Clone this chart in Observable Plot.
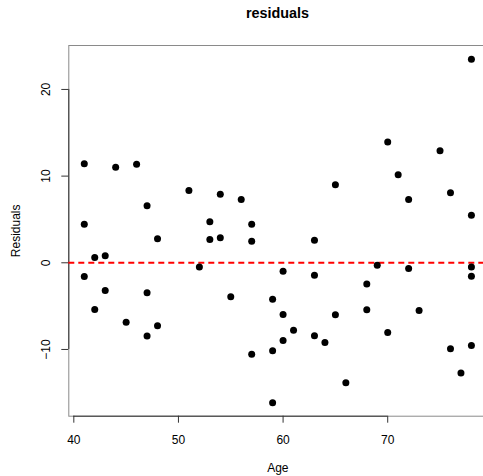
<!DOCTYPE html>
<html><head><meta charset="utf-8">
<script src="https://cdn.jsdelivr.net/npm/d3@7"></script>
<script src="https://cdn.jsdelivr.net/npm/@observablehq/plot@0.6"></script>
<style>
html,body{margin:0;padding:0;overflow:hidden;background:#fff;}
#wrap{width:483px;height:476px;overflow:hidden;position:relative;}
#title{width:419px;padding-left:68px;padding-top:5px;height:25px;text-align:center;font:bold 14.4px "Liberation Sans",Arial,sans-serif;line-height:16px;color:#000;}
#chart{width:487px;}
#chart svg{display:block;max-width:none !important;width:487px !important;height:446px !important;}
</style></head><body>
<div id="wrap"><div id="title">residuals</div><div id="chart"></div></div>
<script>
const ages = [41,44,46,51,54,56,47,41,53,57,48,53,54,57,78,70,75,71,65,72,76,78,63,42,43,41,52,43,47,55,42,45,48,47,57,69,72,78,78,60,63,68,59,60,65,68,73,61,63,64,60,70,59,76,78,77,66,59];
const residuals = [11.42,11.03,11.37,8.34,7.92,7.30,6.57,4.46,4.73,4.45,2.77,2.69,2.88,2.49,23.48,13.95,12.92,10.15,9.0,7.30,8.07,5.49,2.61,0.61,0.81,-1.58,-0.5,-3.19,-3.46,-3.92,-5.39,-6.85,-7.27,-8.46,-10.54,-0.27,-0.66,-0.5,-1.54,-0.97,-1.43,-2.46,-4.2,-5.96,-6.0,-5.42,-5.5,-7.77,-8.42,-9.19,-8.96,-8.04,-10.15,-9.92,-9.54,-12.73,-13.84,-16.15];
const xTicks = [40,50,60,70];
const yTicks = [-10,0,10,20];
const xDomain = [39.52,79.48];
const yDomain = [-17.7,25.07];
const data = ages.map((a,i)=>({age:a, res:residuals[i]}));
const font = '"Liberation Sans", Arial, sans-serif';
const plot = Plot.plot({
  width:487, height:446,
  marginLeft:68.3, marginRight:0.6, marginTop:15, marginBottom:60.3,
  style:{fontFamily:font, fontSize:"12px", background:"white", color:"black", maxWidth:"none"},
  x:{domain:xDomain},
  y:{domain:yDomain},
  marks:[
    Plot.frame({stroke:"#8a8a8a"}),
    Plot.ruleX([xDomain[0]], {y1:yTicks[0], y2:yTicks[yTicks.length-1], stroke:"#333"}),
    Plot.ruleY([yDomain[0]], {x1:xTicks[0], x2:xTicks[xTicks.length-1], stroke:"#333"}),
    Plot.axisX({ticks:xTicks, tickSize:7, tickPadding:12, label:null, fontSize:12, stroke:"#333"}),
    Plot.axisY({ticks:yTicks, tickSize:7, tickPadding:12, tickRotate:-90, label:null, fontSize:12, stroke:"#333"}),
    Plot.ruleY([0], {stroke:"red", strokeWidth:2, strokeDasharray:"6,4"}),
    Plot.dot(data, {x:"age", y:"res", r:3.5, fill:"black", stroke:"none"}),
    Plot.text(["Age"], {text:d=>d, frameAnchor:"bottom", dy:56, fontSize:12}),
    Plot.text(["Residuals"], {text:d=>d, frameAnchor:"left", dx:-52.5, rotate:-90, textAnchor:"middle", fontSize:12})
  ]
});
document.getElementById("chart").appendChild(plot);
</script>
</body></html>
